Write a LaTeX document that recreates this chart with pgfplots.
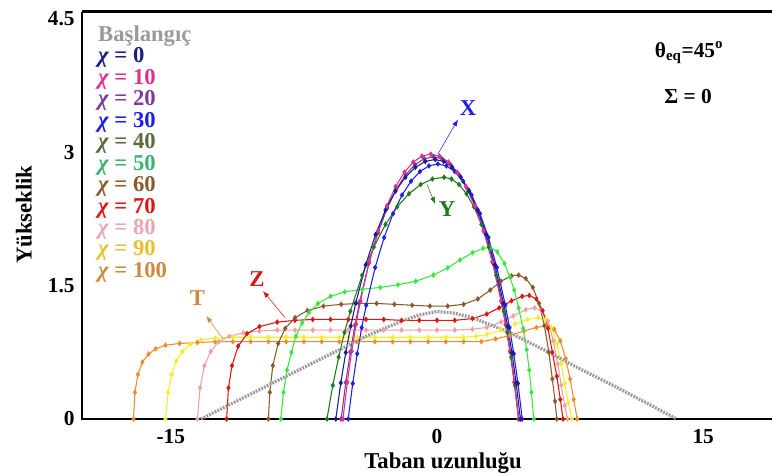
\documentclass[border=0pt]{standalone}
\usepackage{pgfplots}
\pgfplotsset{compat=1.18}
\usepackage{fontspec}
\setmainfont{Liberation Serif}
\usetikzlibrary{arrows.meta}
\definecolor{cgray}{HTML}{9A9A9A}
\definecolor{cnavy}{HTML}{1C1C8C}
\definecolor{cmag}{HTML}{E0308C}
\definecolor{cpur}{HTML}{7A3C9C}
\definecolor{cblue}{HTML}{1E1EE6}
\definecolor{cdgreen}{HTML}{1E7A1E}
\definecolor{colive}{HTML}{5A6B3C}
\definecolor{clime}{HTML}{3CE63C}
\definecolor{cmgreen}{HTML}{3CB371}
\definecolor{cbrown}{HTML}{8B5A2B}
\definecolor{cred}{HTML}{E01414}
\definecolor{cpink}{HTML}{F0A0A0}
\definecolor{clpink}{HTML}{E8A8B0}
\definecolor{cyel}{HTML}{F0F028}
\definecolor{cgold}{HTML}{E8C030}
\definecolor{corange}{HTML}{F08C28}
\definecolor{cobrown}{HTML}{D08A40}
\newcommand{\chiL}{{\itshape χ}}
\begin{document}
\begin{tikzpicture}
\begin{axis}[name=ax,
  scale only axis, width=532.5pt, height=305.3pt,
  xmin=-20, xmax=20, ymin=0, ymax=4.58,
  clip=false,
  axis line style={draw=none},
  xtick={-15,0,15}, xticklabels={-15,0,15},
  ytick={0,1.5,3,4.5}, yticklabels={0,1.5,3,4.5},
  major tick length=0pt,
  tick label style={font=\bfseries\fontsize{16}{16}\selectfont},
  xticklabel style={yshift=-4pt},
  yticklabel style={xshift=-2pt},
  every axis plot/.append style={line width=0.8pt, mark size=1.5pt},
]
% frame
\draw[line width=2.2pt] (axis cs:-20,4.58) -- (axis cs:-20,0) -- (axis cs:20,0);
\draw[line width=2.2pt] (axis cs:-20,4.58) -- (axis cs:20,4.58);

% chi=100 orange
\addplot[color=corange, mark=diamond*] coordinates {(-17.1,0) (-17.02,0.3) (-16.85,0.5) (-16.6,0.64) (-16.25,0.73) (-15.85,0.79) (-15.3,0.83) (-14.5,0.85) (-13.5,0.86) (-12.5,0.87) (-11.5,0.87) (-10.5,0.87) (-9.5,0.87) (-8.5,0.87) (-7.5,0.87) (-6.5,0.87) (-5.5,0.87) (-4.5,0.87) (-3.5,0.87) (-2.5,0.87) (-1.5,0.87) (-0.5,0.87) (0.5,0.87) (1.5,0.87) (2.5,0.87) (3.3,0.9) (4.1,0.94) (4.9,0.99) (5.6,1.03) (6.2,1.05) (6.6,1.01) (6.95,0.88) (7.25,0.68) (7.5,0.45) (7.7,0.22) (7.9,0)};
% chi=90 yellow
\addplot[color=cyel, mark=diamond*] coordinates {(-15.3,0) (-15.15,0.3) (-14.95,0.5) (-14.7,0.65) (-14.35,0.76) (-13.9,0.84) (-13.3,0.89) (-12.5,0.91) (-11.5,0.92) (-10.5,0.92) (-9.5,0.92) (-8.5,0.92) (-7.5,0.92) (-6.5,0.92) (-5.5,0.92) (-4.5,0.92) (-3.5,0.92) (-2.5,0.92) (-1.5,0.92) (-0.5,0.92) (0.5,0.92) (1.5,0.92) (2.2,0.93) (2.8,0.95) (3.6,1.0) (4.4,1.07) (5.1,1.12) (5.7,1.14) (6.1,1.12) (6.45,1.03) (6.75,0.85) (7.0,0.62) (7.2,0.4) (7.4,0.18) (7.6,0)};
% chi=80 pink
\addplot[color=cpink, mark=diamond*] coordinates {(-13.5,0) (-13.35,0.35) (-13.1,0.6) (-12.75,0.76) (-12.3,0.87) (-11.7,0.93) (-10.9,0.97) (-10,0.99) (-9,1.0) (-8,1.0) (-7,1.0) (-6,1.0) (-5,1.0) (-4,1.0) (-3,1.0) (-2,1.0) (-1,1.0) (0,1.0) (1,1.0) (2,1.01) (2.8,1.03) (3.6,1.09) (4.3,1.16) (5.0,1.23) (5.5,1.25) (5.9,1.22) (6.25,1.1) (6.55,0.88) (6.8,0.62) (7.0,0.38) (7.2,0.15) (7.35,0)};
% chi=70 red
\addplot[color=cred, mark=diamond*] coordinates {(-11.85,0) (-11.75,0.35) (-11.55,0.6) (-11.2,0.82) (-10.7,0.96) (-10.0,1.04) (-9.0,1.09) (-8.0,1.11) (-7,1.12) (-6,1.12) (-5,1.12) (-4,1.12) (-3,1.12) (-2,1.11) (-1,1.11) (0,1.11) (1,1.11) (2,1.13) (2.8,1.18) (3.5,1.25) (4.2,1.33) (4.8,1.38) (5.2,1.39) (5.6,1.35) (5.95,1.22) (6.25,1.02) (6.5,0.75) (6.75,0.48) (6.95,0.22) (7.1,0)};
% chi=60 brown
\addplot[color=cbrown, mark=diamond*] coordinates {(-9.5,0) (-9.42,0.3) (-9.25,0.6) (-8.95,0.85) (-8.55,1.02) (-8.0,1.14) (-7.3,1.22) (-6.4,1.27) (-5.4,1.29) (-4.4,1.3) (-3.4,1.3) (-2.4,1.29) (-1.4,1.28) (-0.4,1.27) (0.6,1.27) (1.5,1.29) (2.3,1.35) (3.0,1.45) (3.6,1.55) (4.2,1.61) (4.6,1.62) (5.0,1.58) (5.4,1.48) (5.75,1.3) (6.05,1.05) (6.3,0.75) (6.5,0.45) (6.65,0.2) (6.75,0)};
% chi=50 lime
\addplot[color=clime, mark=diamond*] coordinates {(-8.8,0) (-8.65,0.3) (-8.45,0.55) (-8.2,0.75) (-7.95,0.93) (-7.6,1.08) (-7.2,1.2) (-6.7,1.3) (-6.0,1.38) (-5.2,1.43) (-4.2,1.46) (-3.2,1.48) (-2.2,1.51) (-1.2,1.55) (-0.2,1.62) (0.6,1.7) (1.3,1.79) (2.0,1.87) (2.6,1.92) (3.0,1.93) (3.4,1.88) (3.8,1.75) (4.1,1.6) (4.35,1.45) (4.6,1.25) (4.85,1.02) (5.05,0.78) (5.2,0.55) (5.32,0.3) (5.45,0)};
% chi=40 dark green
\addplot[color=cdgreen, mark=diamond*] coordinates {(-6.2,0) (-5.87,0.378) (-5.54,0.696) (-5.21,0.974) (-4.88,1.213) (-4.22,1.616) (-3.56,1.934) (-2.9,2.19) (-2.24,2.388) (-1.58,2.535) (-0.92,2.638) (-0.26,2.7) (0.4,2.72) (0.82,2.7) (1.24,2.638) (1.66,2.535) (2.08,2.388) (2.5,2.19) (2.92,1.934) (3.34,1.616) (3.76,1.213) (3.97,0.974) (4.18,0.696) (4.39,0.378) (4.6,0)};
% chi=30 blue
\addplot[color=cblue, mark=diamond*] coordinates {(-5.0,0) (-4.748,0.399) (-4.495,0.735) (-4.243,1.027) (-3.99,1.28) (-3.485,1.705) (-2.98,2.041) (-2.475,2.31) (-1.97,2.52) (-1.465,2.675) (-0.96,2.784) (-0.455,2.848) (0.05,2.87) (0.525,2.848) (1.0,2.784) (1.475,2.675) (1.95,2.52) (2.425,2.31) (2.9,2.041) (3.375,1.705) (3.85,1.28) (4.088,1.027) (4.325,0.735) (4.563,0.399) (4.8,0)};
% chi=20 purple
\addplot[color=cpur, mark=diamond*] coordinates {(-5.4,0) (-5.14,0.41) (-4.88,0.755) (-4.62,1.056) (-4.36,1.316) (-3.84,1.752) (-3.32,2.097) (-2.8,2.375) (-2.28,2.59) (-1.76,2.749) (-1.24,2.862) (-0.72,2.928) (-0.2,2.95) (0.28,2.928) (0.76,2.862) (1.24,2.749) (1.72,2.59) (2.2,2.375) (2.68,2.097) (3.16,1.752) (3.64,1.316) (3.88,1.056) (4.12,0.755) (4.36,0.41) (4.6,0)};
% chi=10 magenta
\addplot[color=cmag, mark=diamond*] coordinates {(-5.3,0) (-5.05,0.414) (-4.805,0.763) (-4.56,1.067) (-4.31,1.329) (-3.815,1.77) (-3.32,2.119) (-2.825,2.399) (-2.33,2.616) (-1.835,2.777) (-1.34,2.891) (-0.845,2.958) (-0.35,2.98) (0.145,2.958) (0.64,2.891) (1.135,2.777) (1.63,2.616) (2.125,2.399) (2.62,2.119) (3.115,1.77) (3.61,1.329) (3.86,1.067) (4.105,0.763) (4.35,0.414) (4.6,0)};
% chi=0 navy
\addplot[color=cnavy, mark=diamond*] coordinates {(-5.7,0) (-5.42,0.406) (-5.14,0.748) (-4.86,1.045) (-4.58,1.302) (-4.02,1.734) (-3.46,2.076) (-2.9,2.351) (-2.34,2.564) (-1.78,2.721) (-1.22,2.832) (-0.66,2.898) (-0.1,2.92) (0.38,2.898) (0.86,2.832) (1.34,2.721) (1.82,2.564) (2.3,2.351) (2.78,2.076) (3.26,1.734) (3.74,1.302) (3.98,1.045) (4.22,0.748) (4.46,0.406) (4.7,0)};
% initial (gray)
\addplot[color=cgray, line width=2.4pt, dash pattern=on 1.4pt off 0.9pt, mark=none] coordinates {(-13.3,0) (-12,0.13) (-10,0.33) (-8,0.53) (-6,0.73) (-4,0.93) (-2,1.1) (-1,1.17) (0,1.21) (1,1.19) (2,1.14) (4,0.98) (6,0.78) (8,0.57) (10,0.37) (12,0.16) (13.5,0)};

% annotations
\draw[cblue, -{Latex[length=5pt]}] (axis cs:0.05,2.98) -- (axis cs:1.18,3.37);
\node[text=cblue, font=\bfseries\fontsize{17}{17}\selectfont] at (axis cs:1.75,3.5) {X};
\draw[cdgreen, -{Latex[length=5pt]}] (axis cs:-0.56,2.64) -- (axis cs:-0.11,2.42);
\node[text=cdgreen, font=\bfseries\fontsize{17}{17}\selectfont] at (axis cs:0.56,2.36) {Y};
\draw[cred, -{Latex[length=5pt]}] (axis cs:-8.56,1.14) -- (axis cs:-9.8,1.44);
\node[text=cred, font=\bfseries\fontsize{17}{17}\selectfont] at (axis cs:-10.14,1.57) {Z};
\draw[cobrown, -{Latex[length=5pt]}] (axis cs:-12.06,0.9) -- (axis cs:-13.0,1.16);
\node[text=cobrown, font=\bfseries\fontsize{17}{17}\selectfont] at (axis cs:-13.5,1.36) {T};

\node[font=\bfseries\fontsize{16}{16}\selectfont] at (axis cs:14.2,4.12) {θ\textsubscript{eq}=45\textsuperscript{o}};
\node[font=\bfseries\fontsize{16}{16}\selectfont] at (axis cs:14.14,3.63) {Σ = 0};

% legend
\node[anchor=north west, inner sep=0pt, font=\bfseries\fontsize{17}{16}\selectfont, align=left] at (axis cs:-19.1,4.43) {%
\begin{tabular}{@{}l@{}}
\textcolor{cgray}{Başlangıç}\\
\textcolor{cnavy}{\chiL{} = 0}\\
\textcolor{cmag}{\chiL{} = 10}\\
\textcolor{cpur}{\chiL{} = 20}\\
\textcolor{cblue}{\chiL{} = 30}\\
\textcolor{colive}{\chiL{} = 40}\\
\textcolor{cmgreen}{\chiL{} = 50}\\
\textcolor{cbrown}{\chiL{} = 60}\\
\textcolor{cred}{\chiL{} = 70}\\
\textcolor{clpink}{\chiL{} = 80}\\
\textcolor{cgold}{\chiL{} = 90}\\
\textcolor{cobrown}{\chiL{} = 100}
\end{tabular}};

% axis labels
\node[font=\bfseries\fontsize{17}{17}\selectfont] at (axis cs:0.34,-0.495) {Taban uzunluğu};
\node[rotate=90, font=\bfseries\fontsize{17}{17}\selectfont] at (axis cs:-23.27,2.3) {Yükseklik};
\end{axis}
\pgfresetboundingbox
\path[use as bounding box] ([xshift=-61.5pt,yshift=-42pt]ax.south west) rectangle ([xshift=517.5pt,yshift=314.25pt]ax.south west);
\end{tikzpicture}
\end{document}
